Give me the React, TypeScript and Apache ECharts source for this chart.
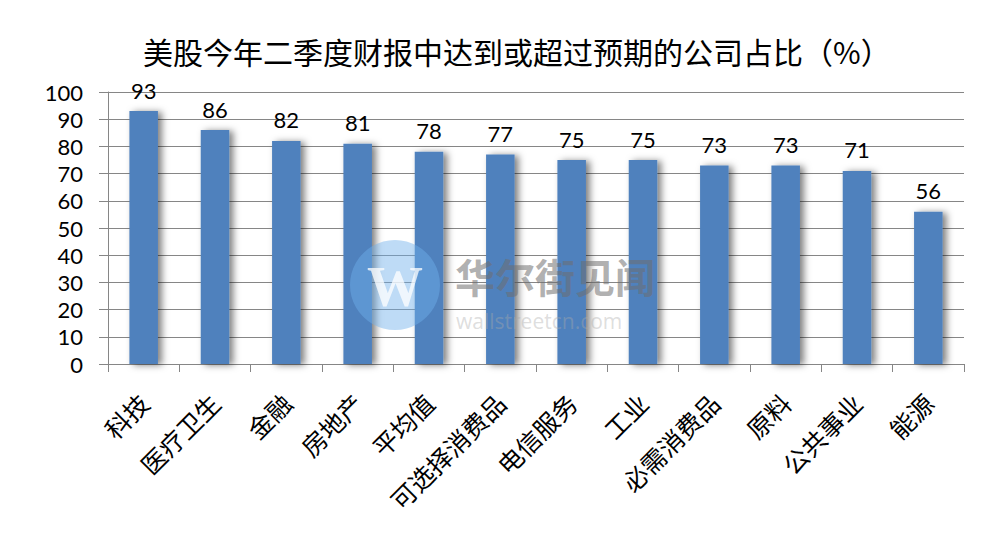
import React, { useEffect, useRef } from "react";
import * as echarts from "echarts";

const titleText = "美股今年二季度财报中达到或超过预期的公司占比（%）";
const categories = ["科技", "医疗卫生", "金融", "房地产", "平均值", "可选择消费品", "电信服务", "工业", "必需消费品", "原料", "公共事业", "能源"];
const values = [93, 86, 82, 81, 78, 77, 75, 75, 73, 73, 71, 56];
const yMin = 0;
const yMax = 100;
const yInterval = 10;

export default function App() {
  const ref = useRef<HTMLDivElement>(null);
  useEffect(() => {
    if (!ref.current) return;
    const chart = echarts.init(ref.current, undefined, { renderer: "svg" });
    const cjk = '"Noto Sans CJK SC", sans-serif';
    chart.setOption({
      animation: false,
      backgroundColor: "#ffffff",
      title: {
        text: titleText,
        left: 138,
        top: 31,
        textStyle: { fontFamily: cjk, fontSize: 30, fontWeight: "normal", color: "#000" },
      },
      grid: { left: 108, right: 27, top: 92, bottom: 180, containLabel: false },
      xAxis: {
        type: "category",
        data: categories,
        axisLine: { lineStyle: { color: "#868686", width: 1 } },
        axisTick: { show: true, alignWithLabel: false, length: 8, lineStyle: { color: "#868686" } },
        axisLabel: {
          interval: 0,
          rotate: 45,
          margin: 34,
          fontFamily: cjk,
          fontSize: 25,
          color: "#000",
        },
      },
      yAxis: {
        type: "value",
        min: yMin,
        max: yMax,
        interval: yInterval,
        axisLine: { show: true, lineStyle: { color: "#868686" } },
        axisTick: { show: true, inside: false, length: 9, lineStyle: { color: "#868686" } },
        splitLine: { show: true, lineStyle: { color: "#868686", width: 1 } },
        axisLabel: { margin: 25, fontFamily: "Lato, sans-serif", fontSize: 22, color: "#000" },
      },
      series: [
        {
          type: "bar",
          data: values,
          barWidth: "40%",
          itemStyle: {
            color: "#4F81BD",
            shadowColor: "rgba(0,0,0,0.5)",
            shadowBlur: 7,
            shadowOffsetX: 4,
            shadowOffsetY: 1,
          },
          label: {
            show: true,
            position: "top",
            distance: 10,
            fontFamily: "Lato, sans-serif",
            fontSize: 22,
            color: "#000",
          },
        },
      ],
      graphic: [
        {
          type: "circle",
          shape: { cx: 395, cy: 285, r: 45 },
          style: { fill: "rgba(110,175,235,0.45)" },
          z: 10,
        },
        {
          type: "text",
          x: 395,
          y: 287,
          style: {
            text: "W",
            fill: "rgba(255,255,255,0.75)",
            font: 'bold 56px "Liberation Serif", serif',
            textAlign: "center",
            textVerticalAlign: "middle",
          },
          z: 11,
        },
        {
          type: "text",
          x: 455,
          y: 276,
          style: {
            text: "华尔街见闻",
            fill: "rgba(110,110,110,0.55)",
            font: 'bold 40px "Noto Sans CJK SC", sans-serif',
            lineHeight: 40,
            textAlign: "left",
            textVerticalAlign: "middle",
          },
          z: 11,
        },
        {
          type: "text",
          x: 456,
          y: 321,
          style: {
            text: "wallstreetcn.com",
            fill: "rgba(170,170,170,0.4)",
            font: '21px "Open Sans", sans-serif',
            lineHeight: 21,
            textAlign: "left",
            textVerticalAlign: "middle",
          },
          z: 11,
        },
      ],
    });
    return () => chart.dispose();
  }, []);
  return (
    <div
      ref={ref}
      style={{ position: "fixed", left: 0, top: 0, width: 991, height: 544 }}
    />
  );
}
